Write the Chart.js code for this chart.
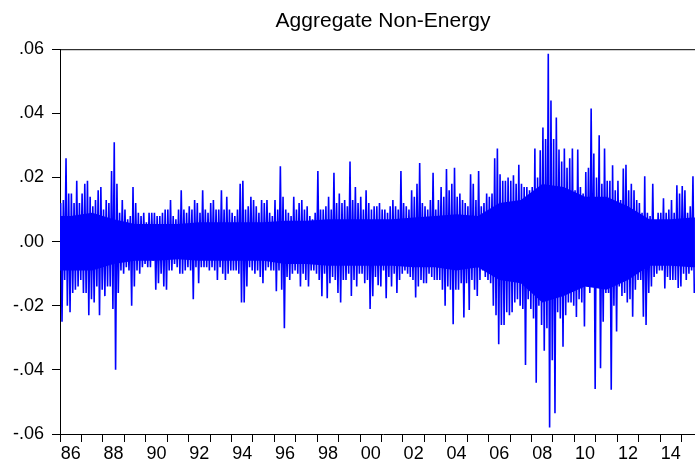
<!DOCTYPE html>
<html>
<head>
<meta charset="utf-8">
<script src="https://cdn.jsdelivr.net/npm/chart.js@4"></script>
<style>
html,body{margin:0;padding:0;background:#fff;overflow:hidden;width:695px;height:465px;}
#wrap{width:706px;height:465px;}
</style>
</head>
<body>
<div id="wrap"><canvas id="c" width="706" height="465"></canvas></div>
<script>
// Daily returns summarised as high / low envelope per 1/8-year bin
const startYear = 1986;
const binsPerYear = 8;
const hi = [
  0.012,0.013,0.026,0.015,0.015,0.012,0.019,0.012,      // 1986
  0.015,0.018,0.019,0.014,0.011,0.013,0.016,0.017,      // 1987
  0.010,0.013,0.012,0.022,0.031,0.018,0.009,0.013,      // 1988
  0.010,0.007,0.008,0.017,0.012,0.009,0.008,0.009,      // 1989
  0.006,0.009,0.009,0.009,0.008,0.008,0.009,0.010,      // 1990
  0.010,0.013,0.008,0.007,0.010,0.016,0.010,0.009,      // 1991
  0.011,0.010,0.013,0.012,0.009,0.016,0.010,0.009,      // 1992
  0.012,0.013,0.010,0.010,0.016,0.010,0.014,0.010,      // 1993
  0.009,0.008,0.010,0.018,0.019,0.010,0.011,0.014,      // 1994
  0.013,0.011,0.009,0.013,0.012,0.013,0.009,0.008,      // 1995
  0.013,0.010,0.0235,0.014,0.010,0.009,0.008,0.014,     // 1996
  0.010,0.012,0.013,0.010,0.011,0.008,0.007,0.009,      // 1997
  0.022,0.010,0.010,0.011,0.014,0.010,0.0215,0.012,     // 1998
  0.015,0.012,0.013,0.011,0.025,0.013,0.017,0.012,      // 1999
  0.014,0.010,0.016,0.012,0.010,0.011,0.011,0.012,      // 2000
  0.010,0.010,0.009,0.011,0.013,0.011,0.010,0.022,      // 2001
  0.012,0.011,0.010,0.016,0.014,0.018,0.0245,0.012,     // 2002
  0.011,0.010,0.013,0.0215,0.010,0.013,0.017,0.014,     // 2003
  0.0226,0.016,0.018,0.023,0.014,0.015,0.013,0.012,     // 2004
  0.011,0.021,0.018,0.013,0.022,0.011,0.012,0.015,      // 2005
  0.014,0.015,0.026,0.029,0.021,0.019,0.019,0.020,      // 2006
  0.019,0.0207,0.018,0.024,0.018,0.017,0.017,0.016,     // 2007
  0.017,0.029,0.020,0.0285,0.0356,0.032,0.0586,0.044,   // 2008
  0.032,0.0387,0.0287,0.025,0.029,0.023,0.026,0.029,    // 2009
  0.016,0.0287,0.017,0.015,0.0217,0.023,0.0415,0.0275,  // 2010
  0.020,0.0332,0.018,0.029,0.019,0.019,0.0238,0.016,    // 2011
  0.019,0.013,0.0228,0.024,0.016,0.018,0.016,0.013,     // 2012
  0.012,0.009,0.0204,0.009,0.008,0.018,0.006,0.009,     // 2013
  0.009,0.0135,0.009,0.010,0.013,0.009,0.0176,0.015,    // 2014
  0.0173,0.016,0.009,0.011,0.0204                       // 2015
];
const lo = [
  -0.025,-0.012,-0.020,-0.022,-0.016,-0.015,-0.014,-0.012,     // 1986
  -0.016,-0.016,-0.023,-0.018,-0.019,-0.014,-0.023,-0.015,     // 1987
  -0.017,-0.014,-0.014,-0.021,-0.040,-0.016,-0.009,-0.010,     // 1988
  -0.008,-0.009,-0.020,-0.014,-0.009,-0.010,-0.008,-0.007,     // 1989
  -0.008,-0.008,-0.006,-0.015,-0.013,-0.010,-0.014,-0.015,     // 1990
  -0.009,-0.009,-0.007,-0.008,-0.010,-0.010,-0.009,-0.008,     // 1991
  -0.009,-0.018,-0.008,-0.013,-0.008,-0.008,-0.008,-0.009,     // 1992
  -0.008,-0.009,-0.012,-0.008,-0.010,-0.012,-0.010,-0.009,     // 1993
  -0.009,-0.009,-0.010,-0.019,-0.019,-0.014,-0.008,-0.009,     // 1994
  -0.010,-0.009,-0.011,-0.013,-0.009,-0.008,-0.009,-0.009,     // 1995
  -0.0155,-0.009,-0.015,-0.027,-0.011,-0.012,-0.010,-0.009,    // 1996
  -0.010,-0.014,-0.010,-0.012,-0.014,-0.009,-0.009,-0.010,     // 1997
  -0.012,-0.017,-0.010,-0.0177,-0.013,-0.011,-0.012,-0.016,    // 1998
  -0.019,-0.012,-0.012,-0.010,-0.017,-0.012,-0.014,-0.010,     // 1999
  -0.010,-0.013,-0.012,-0.021,-0.017,-0.011,-0.0136,-0.014,    // 2000
  -0.009,-0.0177,-0.011,-0.014,-0.010,-0.016,-0.012,-0.010,    // 2001
  -0.009,-0.010,-0.011,-0.012,-0.0174,-0.014,-0.012,-0.013,    // 2002
  -0.013,-0.010,-0.011,-0.012,-0.012,-0.012,-0.015,-0.020,     // 2003
  -0.014,-0.015,-0.0258,-0.015,-0.015,-0.013,-0.0237,-0.013,   // 2004
  -0.0213,-0.012,-0.015,-0.017,-0.012,-0.009,-0.011,-0.012,    // 2005
  -0.013,-0.020,-0.023,-0.032,-0.026,-0.026,-0.022,-0.023,     // 2006
  -0.022,-0.019,-0.018,-0.020,-0.021,-0.0385,-0.018,-0.021,    // 2007
  -0.024,-0.044,-0.020,-0.026,-0.034,-0.027,-0.058,-0.037,     // 2008
  -0.0535,-0.022,-0.024,-0.0328,-0.023,-0.019,-0.019,-0.020,   // 2009
  -0.0235,-0.018,-0.019,-0.0265,-0.014,-0.016,-0.013,-0.046,   // 2010
  -0.014,-0.0395,-0.025,-0.016,-0.016,-0.0462,-0.020,-0.028,   // 2011
  -0.014,-0.017,-0.016,-0.019,-0.018,-0.0234,-0.015,-0.012,    // 2012
  -0.012,-0.0234,-0.026,-0.016,-0.014,-0.011,-0.010,-0.009,    // 2013
  -0.009,-0.0146,-0.011,-0.012,-0.012,-0.012,-0.0145,-0.014,   // 2014
  -0.010,-0.012,-0.010,-0.009,-0.016                           // 2015
];
// Extent of the dense (solid) core of the daily series, per year
const coreHi = [0.008,0.009,0.007,0.0055,0.0055,0.0055,0.006,0.006,0.006,0.006,
                0.0065,0.0065,0.007,0.007,0.007,0.007,0.0075,0.008,0.0085,0.008,
                0.012,0.013,0.018,0.017,0.014,0.014,0.011,0.007,0.007,0.0075];
const coreLo = [-0.009,-0.009,-0.007,-0.006,-0.006,-0.0055,-0.006,-0.006,-0.006,-0.006,
                -0.007,-0.007,-0.0075,-0.0075,-0.0075,-0.0075,-0.008,-0.008,-0.009,-0.008,
                -0.012,-0.013,-0.019,-0.017,-0.014,-0.015,-0.012,-0.0075,-0.0075,-0.008];
const yTicks = [-0.06, -0.04, -0.02, 0, 0.02, 0.04, 0.06];
const yearTicks = [1986,1987,1988,1989,1990,1991,1992,1993,1994,1995,1996,1997,1998,1999,2000,
                   2001,2002,2003,2004,2005,2006,2007,2008,2009,2010,2011,2012,2013,2014,2015,2016];
const xLabelYears = [1986,1988,1990,1992,1994,1996,1998,2000,2002,2004,2006,2008,2010,2012,2014];
const xLabels = ['86','88','90','92','94','96','98','00','02','04','06','08','10','12','14'];
const xMin = 1986, xMax = 2016.14, dataEnd = startYear + hi.length / binsPerYear;

const points = [];
hi.forEach((h, k) => {
  const t = startYear + k / binsPerYear;
  points.push({x: t + 0.25 / binsPerYear, y: h});
  points.push({x: t + 0.75 / binsPerYear, y: lo[k]});
});
function corePts(arr) {
  const p = [{x: startYear, y: arr[0]}];
  arr.forEach((v, i) => p.push({x: startYear + i + 0.5, y: v}));
  p.push({x: dataEnd, y: arr[arr.length - 1]});
  return p;
}

const fontFam = "'Liberation Sans', Arial, sans-serif";
const frame = {
  id: 'frame',
  afterDraw(chart) {
    const {ctx, chartArea: a} = chart;
    ctx.save();
    ctx.strokeStyle = '#000';
    ctx.lineWidth = 1;
    ctx.beginPath();
    ctx.moveTo(a.left, a.top + 0.5);
    ctx.lineTo(a.right, a.top + 0.5);
    ctx.stroke();
    ctx.restore();
  }
};

function fmtY(v) {
  let s = Math.abs(v).toFixed(2).replace(/^0/, '');
  return (v < -1e-9 ? '-' : '') + s;
}

new Chart(document.getElementById('c'), {
  type: 'line',
  data: {
    datasets: [
      {
        data: points,
        borderColor: '#0000ff',
        borderWidth: 1.6,
        pointRadius: 0,
        tension: 0,
        fill: false,
        order: 0
      },
      {
        data: corePts(coreHi),
        borderWidth: 0,
        borderColor: 'rgba(0,0,255,0)',
        backgroundColor: '#0000ff',
        pointRadius: 0,
        tension: 0,
        fill: '+1',
        order: 1
      },
      {
        data: corePts(coreLo),
        borderWidth: 0,
        borderColor: 'rgba(0,0,255,0)',
        pointRadius: 0,
        tension: 0,
        fill: false,
        order: 2
      }
    ]
  },
  options: {
    responsive: false,
    animation: false,
    events: [],
    layout: {padding: {left: 0, right: 0, top: 0, bottom: 0}},
    plugins: {
      legend: {display: false},
      tooltip: {enabled: false},
      title: {
        display: true,
        fullSize: false,
        text: 'Aggregate Non-Energy',
        color: '#000',
        font: {family: fontFam, size: 21, weight: 'normal'},
        padding: {top: 9, bottom: 15}
      }
    },
    scales: {
      x: {
        type: 'linear',
        min: xMin,
        max: xMax,
        afterBuildTicks: s => { s.ticks = yearTicks.map(v => ({value: v})); },
        afterFit: s => { s.height = 31; },
        grid: {drawOnChartArea: false, drawTicks: true, tickLength: 8, tickColor: '#000', color: '#000'},
        border: {color: '#000', width: 1},
        ticks: {
          autoSkip: false,
          maxRotation: 0,
          labelOffset: 10.7,
          padding: 1,
          color: '#000',
          font: {family: fontFam, size: 18},
          callback: v => {
            const i = xLabelYears.indexOf(Math.round(v));
            return i >= 0 ? xLabels[i] : '';
          }
        }
      },
      y: {
        min: -0.06,
        max: 0.06,
        afterBuildTicks: s => { s.ticks = yTicks.map(v => ({value: v})); },
        afterFit: s => { s.width = 60; },
        grid: {drawOnChartArea: false, drawTicks: true, tickLength: 8, tickColor: '#000', color: '#000'},
        border: {color: '#000', width: 1},
        ticks: {
          color: '#000',
          padding: 8,
          font: {family: fontFam, size: 18},
          callback: v => fmtY(v)
        }
      }
    }
  },
  plugins: [frame]
});
</script>
</body>
</html>
